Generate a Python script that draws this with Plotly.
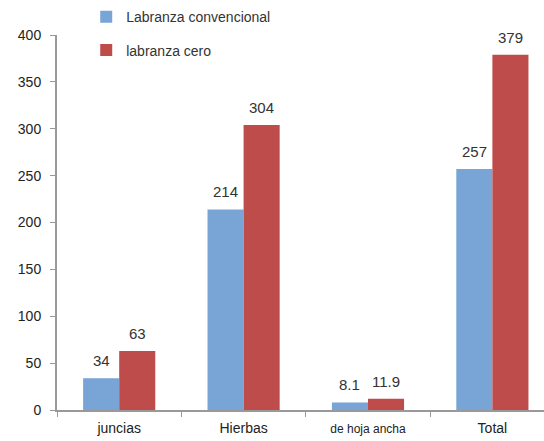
import plotly.graph_objects as go

categories = ["juncias", "Hierbas", "de hoja ancha", "Total"]
tick_labels = ["juncias", "Hierbas", "<span style=\"font-size:12px\">de hoja ancha</span>", "Total"]
convencional = [34, 214, 8.1, 257]
cero = [63, 304, 11.9, 379]
series_names = ["Labranza convencional", "labranza cero"]
colors = ["#78A5D6", "#BE4C4A"]

BARGAP = 0.42
half = (1 - BARGAP) / 4  # offset of each bar centre from category centre

fig = go.Figure()
for name, vals, col, grp in [(series_names[0], convencional, colors[0], "a"),
                             (series_names[1], cero, colors[1], "b")]:
    fig.add_trace(go.Bar(
        x=categories, y=vals, name=name, marker_color=col, marker_line_width=0,
        legendgroup=grp,
    ))

annotations = []
for sign, vals in [(-1, convencional), (1, cero)]:
    for i, v in enumerate(vals):
        annotations.append(dict(
            x=i + sign * half, y=v, xref="x", yref="y", text=str(v),
            showarrow=False, yanchor="bottom", yshift=7,
            font=dict(size=15, color="#333333"),
        ))

fig.update_layout(
    width=544, height=441,
    margin=dict(l=57, r=0, t=35, b=31),
    paper_bgcolor="white", plot_bgcolor="white",
    font=dict(family="Liberation Sans, Arial, sans-serif", size=14, color="#333333"),
    barmode="group", bargap=BARGAP, bargroupgap=0,
    showlegend=True,
    legend=dict(x=0.06, y=1.09, xanchor="left", yanchor="top",
                font=dict(size=14, color="#333333"), tracegroupgap=12,
                bgcolor="rgba(0,0,0,0)"),
    annotations=annotations,
)
fig.update_xaxes(
    type="category", range=[-0.5, 3.415],
    tickmode="array", tickvals=categories, ticktext=tick_labels,
    tickson="boundaries", ticks="outside", ticklen=5, tickcolor="#999999",
    showline=True, linecolor="#999999", linewidth=2,
    showgrid=False, tickfont=dict(size=14, color="#222222"),
    ticklabelstandoff=4,
)
fig.update_yaxes(
    range=[0, 400], dtick=50, tick0=0,
    ticks="outside", ticklen=5, tickcolor="#999999",
    showline=True, linecolor="#999999", linewidth=2,
    showgrid=False, zeroline=False, ticklabelstandoff=6,
    tickfont=dict(size=14, color="#222222"),
)

fig.write_html("out.html")
